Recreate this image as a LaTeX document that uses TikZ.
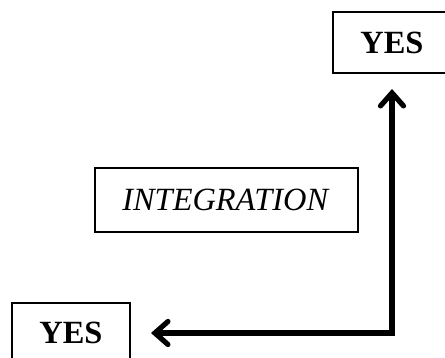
\documentclass[tikz,border=0pt]{standalone}
\usepackage{fontspec}
\setmainfont{Liberation Serif}
\usetikzlibrary{positioning, arrows.meta, calc}

\begin{document}
\begin{tikzpicture}[x=0.5pt, y=-0.5pt, every node/.style={align=center}]
\tikzset{
  block/.style={
    rectangle, draw=black, line width=1pt, inner sep=0pt,
    font=\fontsize{16.2}{19}\selectfont
  },
  answer/.style={block, minimum width=59pt, minimum height=30.5pt},
  arrow/.style={line width=2.6pt, line join=miter, {Straight Barb[length=6.5pt, width=11.5pt, line cap=round]}-{Straight Barb[length=6.5pt, width=11.5pt, line cap=round]}}
}
\useasboundingbox (0,0) rectangle (445,358);

\node (yestop) [answer] at (392,42.5) {\textbf{YES}};
\node (integ) [block, minimum width=131.5pt, minimum height=32pt] at (226,200) {\textit{INTEGRATION}};
\node (yesbot) [answer] at (71,333) {\textbf{YES}};

\coordinate (corner) at (yestop |- yesbot);

\draw [arrow, shorten <=10pt, shorten >=7.5pt] (yesbot.east) -- (corner) -- (yestop.south);
\end{tikzpicture}
\end{document}
